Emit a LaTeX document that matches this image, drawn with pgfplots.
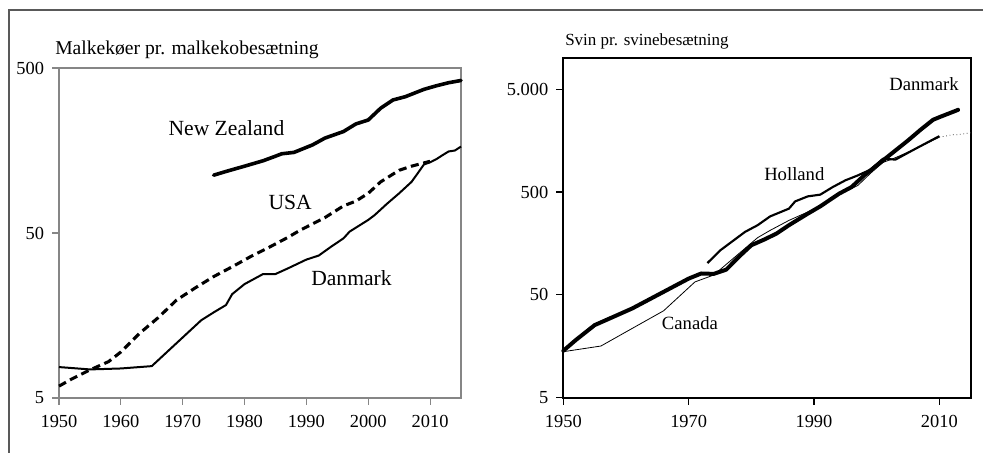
\documentclass[border=0pt]{standalone}
\usepackage{fontspec}
\setmainfont{Liberation Serif}
\usepackage{pgfplots}
\pgfplotsset{compat=1.18}
\definecolor{axgray}{RGB}{134,134,134}
\newcommand\pxc[2]{({(#1)*0.75pt},{(453-(#2))*0.75pt})}
\begin{document}
\begin{tikzpicture}
\path[use as bounding box] (0,0) rectangle (737.25pt,339.75pt);
\draw[black!65, line width=0.8pt] \pxc{9}{453} -- \pxc{9}{10} -- \pxc{983}{10};

% ---------- left panel ----------
\begin{axis}[
  at={(44.25pt,41.25pt)}, anchor=south west,
  scale only axis, width=301.5pt, height=247.5pt,
  xmin=1950, xmax=2015, ymode=log, ymin=5, ymax=500,
  xtick={1950,1960,1970,1980,1990,2000,2010},
  xticklabels={1950,1960,1970,1980,1990,2000,2010},
  ytick={5,50,500}, yticklabels={5,50,500},
  yminorticks=false,
  tick pos=left, tick align=outside, major tick length=5.25pt,
  tick style={color=axgray, line width=0.8pt},
  axis line style={color=axgray, line width=0.9pt},
  ticklabel style={font=\fontsize{13.8}{16}\selectfont},
  xticklabel style={yshift=-4.5pt},
  yticklabel style={xshift=-2.5pt},
  clip=false,
]
\addplot[black, line width=1.5pt, line join=round] table {
1950 7.7
1952 7.6
1955 7.45
1960 7.55
1965 7.8
1973 14.8
1975 16.5
1977 18.3
1978 21.3
1980 24.5
1983 28.2
1985 28.2
1987 30.5
1990 34.5
1992 36.5
1994 41.3
1996 46.4
1997 51
2000 60
2001 64
2003 75
2005 87
2007 102
2008 115
2009 130
2010 134
2011 140
2012 148
2013 156
2014 158
2015 167
};
\addplot[black, line width=2.3pt, dash pattern=on 6pt off 3.5pt] table {
1950 5.9
1952 6.5
1955 7.4
1958 8.3
1960 9.5
1963 12.3
1966 15.3
1969 19.6
1972 23.2
1975 27.2
1978 31.2
1981 36
1984 41
1987 47
1989 52
1993 62
1996 73
1998 78
2000 87
2002 102
2005 120
2007 127
2010 136
};
\addplot[black, line width=2.7pt, line cap=round, line join=round] table {
1975 112
1977 118
1980 127
1983 137
1985 146
1986 151
1988 154
1991 171
1993 188
1996 206
1998 229
2000 242
2002 285
2004 320
2006 335
2009 371
2011 390
2013 407
2015 420
};
\end{axis}

% ---------- right panel ----------
\begin{axis}[
  at={(422.5pt,41.5pt)}, anchor=south west,
  scale only axis, width=305.5pt, height=254.5pt,
  xmin=1950, xmax=2015, ymode=log, ymin=5, ymax=10000,
  xtick={1950,1970,1990,2010},
  xticklabels={1950,1970,1990,2010},
  ytick={5,50,500,5000}, yticklabels={5,50,500,5.000},
  yminorticks=false,
  tick pos=left, tick align=outside, major tick length=5.25pt,
  tick style={color=black, line width=0.9pt},
  axis line style={color=black, line width=1.5pt},
  ticklabel style={font=\fontsize{13.8}{16}\selectfont},
  xticklabel style={yshift=-4.5pt},
  yticklabel style={xshift=-2.5pt},
  clip=false,
]
\addplot[black, line width=0.6pt] table {
1950 14.0
1956 15.9
1961 23.6
1966 35.0
1971 66.8
1974 78
1981 180
1983 212
1986 265
1989 320
1991 360
1994 470
1997 580
1999 760
2001 970
2003 1080
2006 1300
2010 1710
};
\addplot[black!70, line width=0.6pt, dotted] table {
2010 1710
2012 1800
2013 1810
2015 1887
};
\addplot[black, line width=1.6pt, line join=round] table {
1973 102
1975 135
1979 205
1981 238
1983 290
1986 345
1987 406
1989 454
1991 472
1993 560
1995 650
1997 727
1999 825
2001 1055
2003 1035
2006 1300
2010 1750
};
\addplot[black, line width=3pt, line join=round, line cap=round] table {
1950 14.3
1952 18.2
1955 25.4
1958 30.6
1961 36.9
1966 53.5
1970 72
1972 80.7
1974 80
1976 88
1978 117
1980 152
1982 172
1984 197
1986 238
1989 308
1991 363
1994 482
1996 560
1998 726
2001 1015
2005 1588
2007 2017
2009 2524
2010 2675
2013 3155
};
\end{axis}

% ---------- titles and labels ----------
\node[anchor=base west, inner sep=0pt, font=\fontsize{14.7}{17}\selectfont] at \pxc{55}{54.5} {Malkekøer pr. malkekobesætning};
\node[anchor=base west, inner sep=0pt, font=\fontsize{12.75}{15}\selectfont] at \pxc{565}{45.5} {Svin pr. svinebesætning};

\node[anchor=base west, inner sep=0pt, font=\fontsize{16.2}{19}\selectfont] at \pxc{168.3}{136} {New Zealand};
\node[anchor=base west, inner sep=0pt, font=\fontsize{16.2}{19}\selectfont] at \pxc{268.3}{210} {USA};
\node[anchor=base west, inner sep=0pt, font=\fontsize{16.2}{19}\selectfont] at \pxc{311}{286} {Danmark};

\node[anchor=base west, inner sep=0pt, font=\fontsize{14}{17}\selectfont] at \pxc{889}{91} {Danmark};
\node[anchor=base west, inner sep=0pt, font=\fontsize{14}{17}\selectfont] at \pxc{764}{181} {Holland};
\node[anchor=base west, inner sep=0pt, font=\fontsize{14}{17}\selectfont] at \pxc{661.7}{330} {Canada};
\end{tikzpicture}
\end{document}
